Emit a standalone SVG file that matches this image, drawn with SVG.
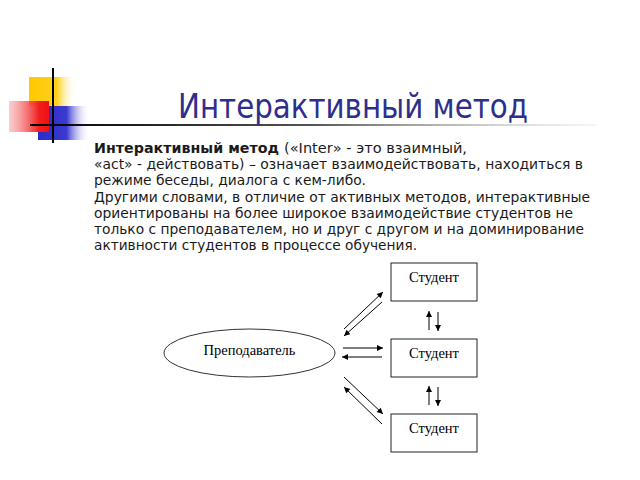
<svg xmlns="http://www.w3.org/2000/svg" width="640" height="480" viewBox="0 0 640 480">
<defs>
<linearGradient id="gY" x1="0" y1="0" x2="1" y2="0"><stop offset="0" stop-color="#FFC800"/><stop offset="0.6" stop-color="#FFD21E"/><stop offset="1" stop-color="#FFFFFF" stop-opacity="0"/></linearGradient>
<linearGradient id="gR" x1="0" y1="0" x2="1" y2="0"><stop offset="0" stop-color="#F4A0A0" stop-opacity="0.5"/><stop offset="0.75" stop-color="#F21E1E"/><stop offset="1" stop-color="#EE1111"/></linearGradient>
<linearGradient id="gB" x1="0" y1="0" x2="1" y2="0"><stop offset="0" stop-color="#2B2BC8"/><stop offset="0.55" stop-color="#3A3AD0"/><stop offset="1" stop-color="#FFFFFF" stop-opacity="0"/></linearGradient>
<linearGradient id="gL" x1="0" y1="0" x2="1" y2="0"><stop offset="0" stop-color="#000000"/><stop offset="0.5" stop-color="#555555"/><stop offset="1" stop-color="#DDDDDD" stop-opacity="0.3"/></linearGradient>
<marker id="ah" viewBox="0 0 10 10" refX="10" refY="5" markerWidth="7" markerHeight="6" markerUnits="userSpaceOnUse" orient="auto"><path d="M0,0 L10,5 L0,10 z" fill="#000"/></marker>
</defs>
<style>
.body{font-family:"DejaVu Sans","Liberation Sans",sans-serif;font-size:14px;fill:#1a1a1a}
.serif{font-family:"Liberation Serif","DejaVu Serif",serif;font-size:14.5px;fill:#000}
.box{fill:#fff;stroke:#222;stroke-width:1}
.con{stroke:#000;stroke-width:1;fill:none;marker-end:url(#ah)}
</style>
<rect width="640" height="480" fill="#fff"/>
<g id="decor">
<rect x="29" y="77" width="47" height="29" fill="url(#gY)"/>
<rect x="38" y="106" width="52" height="34" fill="url(#gB)"/>
<rect x="9" y="101" width="40" height="31" fill="url(#gR)"/>
<line x1="53" y1="68" x2="53" y2="143" stroke="#000" stroke-width="2"/>
<rect x="30" y="124" width="566" height="2" fill="url(#gL)"/>
</g>
<text x="178" y="118" font-family="'DejaVu Sans','Liberation Sans',sans-serif" font-size="33" fill="#2E2E8C" textLength="350" lengthAdjust="spacingAndGlyphs">Интерактивный метод</text>
<g id="paragraph">
<text class="body" x="94" y="153" font-weight="bold" textLength="185" lengthAdjust="spacingAndGlyphs">Интерактивный метод</text>
<text class="body" x="284" y="153" textLength="183" lengthAdjust="spacingAndGlyphs">(«Inter» - это взаимный,</text>
<text class="body" x="94" y="169" textLength="489" lengthAdjust="spacingAndGlyphs">«act» - действовать) – означает взаимодействовать, находиться в</text>
<text class="body" x="94" y="185" textLength="272" lengthAdjust="spacingAndGlyphs">режиме беседы, диалога с кем-либо.</text>
<text class="body" x="94" y="202" textLength="496" lengthAdjust="spacingAndGlyphs">Другими словами, в отличие от активных методов, интерактивные</text>
<text class="body" x="94" y="218" textLength="479" lengthAdjust="spacingAndGlyphs">ориентированы на более широкое взаимодействие студентов не</text>
<text class="body" x="94" y="234" textLength="490" lengthAdjust="spacingAndGlyphs">только с преподавателем, но и друг с другом и на доминирование</text>
<text class="body" x="94" y="250" textLength="323" lengthAdjust="spacingAndGlyphs">активности студентов в процессе обучения.</text>
</g>
<g id="teacher">
<ellipse cx="249.5" cy="353" rx="85.5" ry="24" fill="#fff" stroke="#333" stroke-width="1"/>
<text class="serif" x="249.5" y="355" text-anchor="middle">Преподаватель</text>
</g>
<g id="student1">
<rect class="box" x="391" y="263" width="86" height="38"/>
<text class="serif" x="434" y="282" text-anchor="middle">Студент</text>
</g>
<g id="student2">
<rect class="box" x="391" y="339" width="86" height="38"/>
<text class="serif" x="434" y="358" text-anchor="middle">Студент</text>
</g>
<g id="student3">
<rect class="box" x="391" y="414" width="86" height="38"/>
<text class="serif" x="434" y="433" text-anchor="middle">Студент</text>
</g>
<g id="connectors">
<line class="con" x1="344" y1="329" x2="383" y2="292"/>
<line class="con" x1="382" y1="302" x2="344" y2="336"/>
<line class="con" x1="343" y1="348" x2="383" y2="348"/>
<line class="con" x1="382" y1="357" x2="342" y2="357"/>
<line class="con" x1="344" y1="377" x2="383" y2="414"/>
<line class="con" x1="382" y1="424" x2="344" y2="387"/>
<line class="con" x1="429" y1="330" x2="429" y2="311"/>
<line class="con" x1="438" y1="312" x2="438" y2="331"/>
<line class="con" x1="429" y1="405" x2="429" y2="386"/>
<line class="con" x1="438" y1="387" x2="438" y2="406"/>
</g>
</svg>
